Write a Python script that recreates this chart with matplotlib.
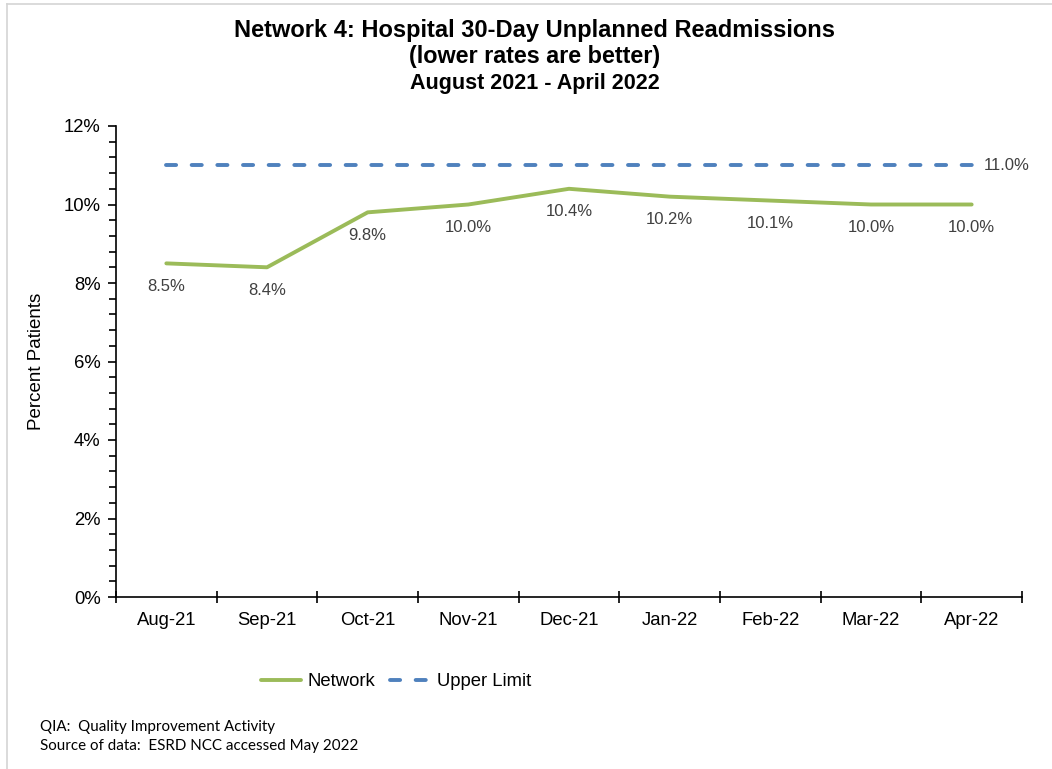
import matplotlib.pyplot as plt
from matplotlib.ticker import MultipleLocator, FuncFormatter
from matplotlib.lines import Line2D

months = ["Aug-21", "Sep-21", "Oct-21", "Nov-21", "Dec-21",
          "Jan-22", "Feb-22", "Mar-22", "Apr-22"]
network = [8.5, 8.4, 9.8, 10.0, 10.4, 10.2, 10.1, 10.0, 10.0]
upper_limit = [11.0] * len(months)

green = "#9bbb59"
blue = "#4f81bd"
label_grey = "#404040"

plt.rcParams["font.family"] = ["Liberation Sans", "DejaVu Sans"]

fig = plt.figure(figsize=(10.52, 7.69), dpi=100)
W, H = 1052, 769

# page frame around the chart
fig.add_artist(Line2D([7 / W, 7 / W], [0, 1 - 4 / H], color="#d4d4d4", lw=1.2))
fig.add_artist(Line2D([7 / W, 1], [1 - 4 / H, 1 - 4 / H], color="#d4d4d4", lw=1.2))

ax = fig.add_axes([116 / W, 1 - 597 / H, (1022 - 116) / W, (597 - 126) / H])

x = list(range(len(months)))
ax.plot(x, network, color=green, lw=2.8, solid_capstyle="round", label="Network")
ax.plot(x, upper_limit, color=blue, lw=2.8, dashes=(2.6, 4.0),
        dash_capstyle="round", label="Upper Limit")

for xi, v in zip(x, network):
    ax.annotate(f"{v:.1f}%", (xi, v), xytext=(0, -11), textcoords="offset points",
                ha="center", va="top", fontsize=12, color=label_grey)
ax.annotate(f"{upper_limit[-1]:.1f}%", (x[-1], upper_limit[-1]), xytext=(9, 0),
            textcoords="offset points", ha="left", va="center",
            fontsize=12, color=label_grey)

ax.set_xlim(-0.5, len(months) - 0.5)
ax.set_ylim(0, 12)
ax.yaxis.set_major_locator(MultipleLocator(2))
ax.yaxis.set_minor_locator(MultipleLocator(0.4))
ax.yaxis.set_major_formatter(FuncFormatter(lambda v, p: f"{v:.0f}%"))
ax.set_xticks(x)
ax.set_xticklabels(months)
ax.set_xticks([i - 0.5 for i in range(len(months) + 1)], minor=True)
ax.tick_params(axis="x", which="major", length=0, pad=11, labelsize=13.3)
ax.tick_params(axis="x", which="minor", direction="inout", length=9, width=1.2)
ax.tick_params(axis="y", which="major", direction="out", length=6, width=1.2,
               labelsize=13.3, pad=5)
ax.tick_params(axis="y", which="minor", direction="out", length=5, width=1.2)

for side in ["top", "right"]:
    ax.spines[side].set_visible(False)
for side in ["left", "bottom"]:
    ax.spines[side].set_linewidth(1.2)

ax.set_ylabel("Percent Patients", fontsize=13.5)
ax.yaxis.set_label_coords(-0.078, 0.5)

fig.text(535 / W, 1 - 31 / H, "Network 4: Hospital 30-Day Unplanned Readmissions",
         ha="center", va="center", fontsize=17, fontweight="bold")
fig.text(535 / W, 1 - 56 / H, "(lower rates are better)",
         ha="center", va="center", fontsize=16.8, fontweight="bold")
fig.text(535 / W, 1 - 84 / H, "August 2021 - April 2022",
         ha="center", va="center", fontsize=15.5, fontweight="bold")

leg = fig.legend(handles=ax.get_lines(), loc="center", bbox_to_anchor=(396 / W, 1 - 682 / H),
                 ncol=2, frameon=False, fontsize=13.3, handlelength=2.2,
                 columnspacing=0.8, handletextpad=0.35)

fig.text(40 / W, 1 - 727 / H, "QIA:  Quality Improvement Activity",
         ha="left", va="center", fontsize=10.9, family=["Lato", "DejaVu Sans"])
fig.text(40 / W, 1 - 746 / H, "Source of data:  ESRD NCC accessed May 2022",
         ha="left", va="center", fontsize=10.9, family=["Lato", "DejaVu Sans"])

fig.savefig("out.png", dpi=100)
